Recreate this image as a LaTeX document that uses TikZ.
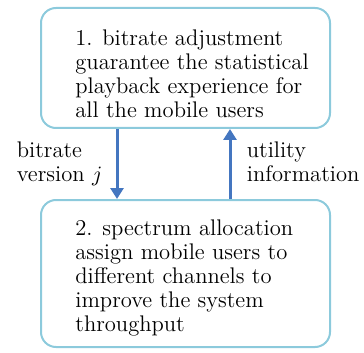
\documentclass[tikz,border=0pt]{standalone}
\usetikzlibrary{arrows.meta}
\definecolor{boxblue}{RGB}{140,202,220}
\definecolor{arrowblue}{RGB}{68,118,192}
\tikzset{
  stepbox/.style={draw=boxblue,line width=1pt,rounded corners=7.5pt,
    minimum width=144.5pt,inner sep=0pt},
  txt/.style={align=left,inner sep=0pt,anchor=north west,
    font=\fontsize{11.3}{12}\selectfont},
  flow/.style={draw=arrowblue,line width=1.5pt,-{Triangle[width=6.5pt,length=5.5pt]}}
}
\begin{document}
\begin{tikzpicture}[x=0.5pt,y=-0.5pt]
\useasboundingbox (0,0) rectangle (364,353);
%% the two boxes
\node[stepbox,minimum height=60pt] (adj) at (185.5,68) {};
\node[stepbox,minimum height=73.5pt] (alloc) at (185.5,273.5) {};
\node[txt] (adjtxt) at (75,29) {1. bitrate adjustment\\guarantee the statistical\\playback experience for\\all the mobile users};
\node[txt] (alloctxt) at (75,219) {2. spectrum allocation\\assign mobile users to\\different channels to\\improve the system\\throughput};
%% the arrows
\coordinate (lx) at (117,0);
\coordinate (rx) at (230,0);
\draw[flow] (adj.south -| lx) -- (alloc.north -| lx);
\draw[flow] (alloc.north -| rx) -- (adj.south -| rx);
\node[txt] (version) at (16.5,141) {bitrate\\version $j$};
\node[txt] (utility) at (246.5,141) {utility\\information};
\end{tikzpicture}
\end{document}
